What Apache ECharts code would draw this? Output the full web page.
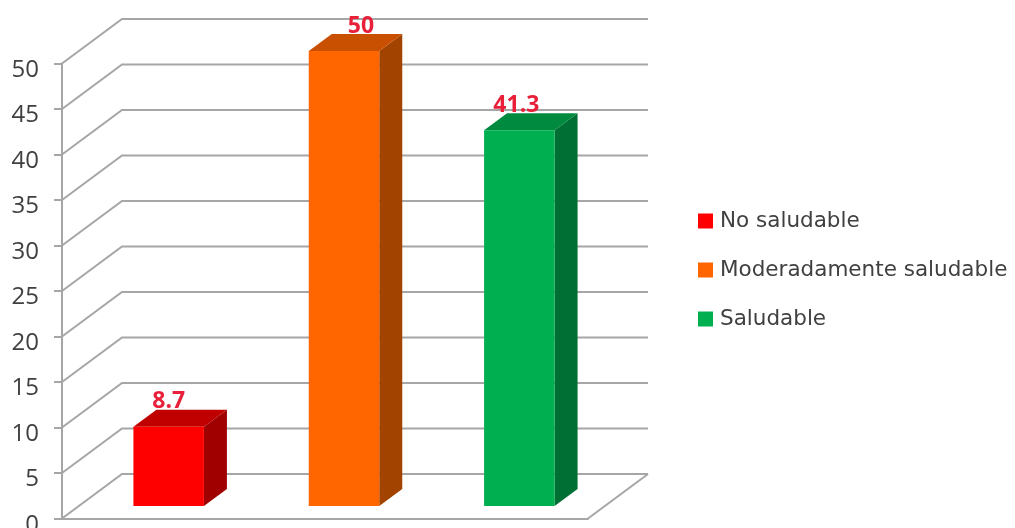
<!DOCTYPE html>
<html>
<head>
<meta charset="utf-8">
<style>html,body{margin:0;padding:0;background:#fff}#c{width:1015px;height:528px}</style>
<script src="https://cdn.jsdelivr.net/npm/echarts@6/dist/echarts.min.js"></script>
</head>
<body>
<div id="c"></div>
<script>
const categories = ['No saludable', 'Moderadamente saludable', 'Saludable'];
const values = [8.7, 50, 41.3];
const yTicks = [0, 5, 10, 15, 20, 25, 30, 35, 40, 45, 50];
const faceColors = ['#ff0000', '#ff6600', '#00b050'];
const topColors = ['#c00000', '#c85000', '#008a40'];
const sideColors = ['#a00000', '#a34300', '#006f33'];
const labelShift = [0, 17, -3];

const wallDX = 60, wallDY = 44.5;      // wall depth
const barDX = 19, barDY = 12.5;        // bar's front face set back from the axis plane
const depthDX = 23, depthDY = 17;      // bar depth
const barW = 70.5;
const lineColor = '#a6a6a6';

function wallItem(params, api) {
  const cs = params.coordSys;
  const p = api.coord([0, api.value(1)]);
  const y = p[1], x0 = cs.x, x1 = cs.x + cs.width;
  const style = { stroke: lineColor, lineWidth: 2, fill: null };
  const children = [{
    type: 'polyline',
    shape: { points: [[x0, y], [x0 + wallDX, y - wallDY], [x1 + wallDX, y - wallDY]] },
    style
  }];
  if (api.value(1) === 0) {
    children.push({
      type: 'line',
      shape: { x1: x1, y1: y, x2: x1 + wallDX, y2: y - wallDY },
      style
    });
  }
  return { type: 'group', children };
}

function barItem(idx) {
  return function (params, api) {
    const top = api.coord([api.value(0), api.value(1)]);
    const base = api.coord([api.value(0), 0]);
    const l = top[0] - barW / 2 + barDX, r = l + barW;
    const t = top[1] - barDY, b = base[1] - barDY;
    return {
      type: 'group',
      children: [
        { type: 'polygon', shape: { points: [[r, t], [r + depthDX, t - depthDY], [r + depthDX, b - depthDY], [r, b]] },
          style: { fill: sideColors[idx] } },
        { type: 'polygon', shape: { points: [[l, t], [l + depthDX, t - depthDY], [r + depthDX, t - depthDY], [r, t]] },
          style: { fill: topColors[idx] } },
        { type: 'rect', shape: { x: l, y: t, width: barW, height: b - t },
          style: { fill: faceColors[idx] } },
        { type: 'text', x: l + barW / 2 + labelShift[idx], y: t - depthDY - 8,
          style: { text: String(api.value(1)), fill: '#e8203a', font: 'bold 23px "Open Sans"', align: 'center', verticalAlign: 'middle' } }
      ]
    };
  };
}

const chart = echarts.init(document.getElementById('c'), null, { renderer: 'canvas' });
chart.setOption({
  animation: false,
  backgroundColor: '#ffffff',
  grid: { left: 62, right: 427, top: 63.5, bottom: 9.5, containLabel: false, outerBoundsMode: 'none' },
  legend: {
    orient: 'vertical',
    left: 698,
    top: 210,
    padding: 0,
    itemWidth: 15,
    itemHeight: 15,
    itemGap: 27,
    icon: 'rect',
    data: categories,
    textStyle: { fontFamily: 'DejaVu Sans', fontSize: 21.5, color: '#404040', padding: [0, 0, 0, 2] }
  },
  xAxis: {
    type: 'category',
    data: categories,
    axisLine: { show: true, lineStyle: { color: lineColor, width: 2 } },
    axisTick: { show: false },
    axisLabel: { show: false },
    splitLine: { show: false }
  },
  yAxis: {
    type: 'value',
    min: 0,
    max: 50,
    interval: 5,
    axisLine: { show: true, lineStyle: { color: lineColor, width: 2 } },
    axisTick: { show: true, length: 8, lineStyle: { color: lineColor, width: 2 } },
    axisLabel: { show: true, fontFamily: 'Open Sans', fontSize: 24, color: '#404040', margin: 23, verticalAlign: 'top', lineHeight: 13,
      formatter: (v) => yTicks.includes(v) ? String(v) : '' },
    splitLine: { show: false }
  },
  series: [
    {
      type: 'custom',
      silent: true,
      clip: false,
      z: 1,
      data: yTicks.map(t => [0, t]),
      renderItem: wallItem
    }
  ].concat(categories.map((name, i) => ({
    type: 'custom',
    name,
    clip: false,
    z: 3 + i,
    itemStyle: { color: faceColors[i] },
    encode: { x: 0, y: 1 },
    data: [[i, values[i]]],
    renderItem: barItem(i)
  })))
});
</script>
</body>
</html>
